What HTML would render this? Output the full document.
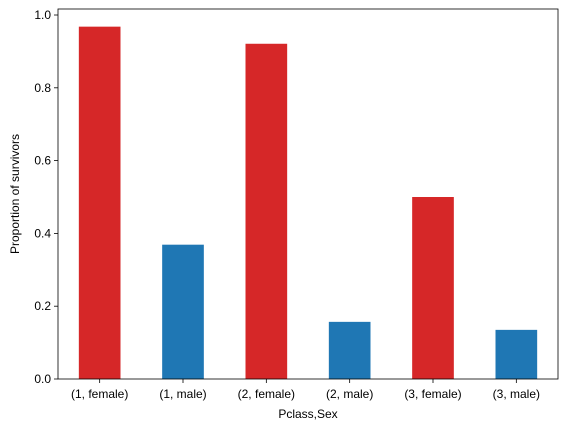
<!DOCTYPE html>
<html><head><meta charset="utf-8"><style>
body{margin:0;background:#fff;}
svg{display:block;font-family:"Liberation Sans",sans-serif;}
</style></head><body>
<svg id="chart" width="564" height="432"></svg>
<script>
const categories = ["(1, female)","(1, male)","(2, female)","(2, male)","(3, female)","(3, male)"];
const survivalValues = [0.968, 0.369, 0.921, 0.157, 0.5, 0.135];
const barColors = ["#d62728","#1f77b4","#d62728","#1f77b4","#d62728","#1f77b4"];
const yTickLabels = ["0.0","0.2","0.4","0.6","0.8","1.0"];
const yTickValues = [0,0.2,0.4,0.6,0.8,1.0];

const svg = document.getElementById('chart');
const NS = 'http://www.w3.org/2000/svg';
const L=58, R=558, T=9, B=379;
const yMax = 1.0165;
const x = i => L + (i + 0.5) * (R - L) / categories.length;
const y = v => B - v / yMax * (B - T);
const bw = 0.5 * (R - L) / categories.length;
function mk(tag, attrs, parent){const e=document.createElementNS(NS,tag);for(const k in attrs)e.setAttribute(k,attrs[k]);(parent||svg).appendChild(e);return e;}

categories.forEach((c,i)=>{
  const r = mk('rect',{x:x(i)-bw/2,y:y(survivalValues[i]),width:bw,height:B-y(survivalValues[i]),fill:barColors[i]});
  
  
  mk('line',{x1:x(i),x2:x(i),y1:B,y2:B+4,stroke:'#000','stroke-width':0.8});
  const t = mk('text',{x:x(i),y:B+19,'text-anchor':'middle','font-size':12});
  t.textContent = c;
  
  
});
yTickValues.forEach((v,i)=>{
  mk('line',{x1:L-4,x2:L,y1:y(v),y2:y(v),stroke:'#000','stroke-width':0.8});
  const t = mk('text',{x:L-7,y:y(v)+4,'text-anchor':'end','font-size':12});
  t.textContent = yTickLabels[i];
  
  
});
const frame = mk('rect',{x:L,y:T,width:R-L,height:B-T,fill:'none',stroke:'#000','stroke-width':0.8});


const xt = mk('text',{x:(L+R)/2,y:418,'text-anchor':'middle','font-size':12});
xt.textContent='Pclass,Sex';


const yt = mk('text',{x:0,y:0,'text-anchor':'middle','font-size':12,transform:`translate(19,${(T+B)/2}) rotate(-90)`});
yt.textContent='Proportion of survivors';


</script>
</body></html>
